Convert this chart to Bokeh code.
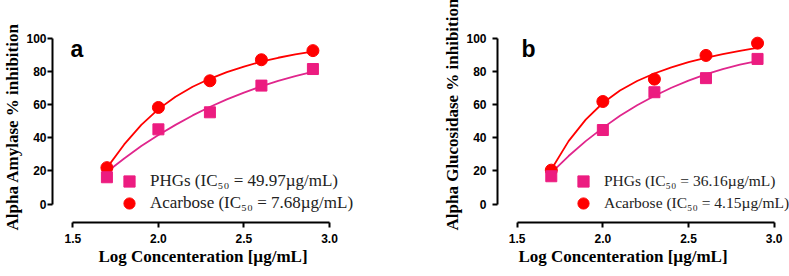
from bokeh.plotting import figure
from bokeh.models import Range1d, FixedTicker, PrintfTickFormatter, Label, Legend, LegendItem, Title
from bokeh.layouts import row
from bokeh.embed import file_html
from bokeh.resources import INLINE

# ---- data ----
log_conc = [1.699, 2.0, 2.301, 2.602, 2.903]
x_ticks = [1.5, 2.0, 2.5, 3.0]
y_ticks = [0, 20, 40, 60, 80, 100]

amylase_phgs = [16.2, 45.1, 55.4, 71.5, 81.5]
amylase_acarbose = [22.0, 58.3, 74.4, 87.1, 92.6]
glucosidase_phgs = [16.8, 44.7, 67.5, 76.0, 87.6]
glucosidase_acarbose = [20.5, 61.9, 75.4, 89.7, 97.1]

# fitted curves
fit_x = [1.7, 1.8, 1.9, 2.0, 2.1, 2.2, 2.3, 2.4, 2.5, 2.6, 2.7, 2.8, 2.9]
amylase_phgs_fit = [19.5, 27.5, 35.0, 41.7, 47.8, 53.5, 58.6, 63.2, 67.3, 71.0, 74.3, 77.2, 79.8]
amylase_acarbose_fit = [22.0, 36.0, 47.8, 57.3, 64.8, 70.8, 75.6, 79.6, 83.0, 85.9, 88.3, 90.3, 92.0]
glucosidase_phgs_fit = [19.0, 29.0, 38.0, 46.0, 53.3, 59.6, 65.2, 70.2, 74.5, 78.3, 81.5, 84.1, 86.3]
glucosidase_acarbose_fit = [21.0, 38.0, 51.0, 61.0, 68.5, 74.3, 78.8, 82.5, 85.6, 88.2, 90.5, 92.5, 94.3]

panel_a_labels = ["PHGs (IC\u2085\u2080 = 49.97\u00b5g/mL)", "Acarbose (IC\u2085\u2080 = 7.68\u00b5g/mL)"]
panel_b_labels = ["PHGs (IC\u2085\u2080 = 36.16\u00b5g/mL)", "Acarbose (IC\u2085\u2080 = 4.15\u00b5g/mL)"]
x_title = "Log Concenteration [\u00b5g/mL]"

PINK = "#EC1C80"
PINK_LINE = "#E0268C"
RED = "#FF0000"


def make_panel(width, border_left, border_right, x_start, x_end, ytick_standoff,
               letter, letter_dx, ylab, xlab_dx, phgs, acarb, phgs_fit, acarb_fit,
               labels, leg_x, leg_font):
    p = figure(width=width, height=276, output_backend="svg", toolbar_location=None,
               x_range=Range1d(x_start, x_end), y_range=Range1d(-11.1, 115),
               min_border_left=border_left, min_border_right=border_right,
               min_border_top=13, min_border_bottom=54)
    p.outline_line_color = None
    p.xgrid.visible = False
    p.ygrid.visible = False
    p.background_fill_color = "white"
    p.border_fill_color = "white"

    for ax in (p.xaxis[0], p.yaxis[0]):
        ax.axis_line_width = 2
        ax.axis_line_color = "black"
        ax.major_tick_line_width = 2
        ax.major_tick_line_color = "black"
        ax.major_tick_out = 5
        ax.major_tick_in = 0
        ax.minor_tick_out = 0
        ax.minor_tick_in = 0
        ax.major_label_text_font = "Liberation Sans"
        ax.major_label_text_font_style = "bold"
        ax.major_label_text_font_size = "12px"
        ax.major_label_text_color = "black"

    p.xaxis[0].ticker = FixedTicker(ticks=x_ticks, minor_ticks=[])
    p.xaxis[0].formatter = PrintfTickFormatter(format="%.1f")
    p.xaxis[0].bounds = (x_ticks[0], x_ticks[-1])
    p.xaxis[0].major_label_standoff = 6
    p.yaxis[0].ticker = FixedTicker(ticks=y_ticks, minor_ticks=[])
    p.yaxis[0].bounds = (y_ticks[0], y_ticks[-1])
    p.yaxis[0].major_label_standoff = ytick_standoff

    p.line(fit_x, phgs_fit, line_color=PINK_LINE, line_width=1.8)
    p.line(fit_x, acarb_fit, line_color=RED, line_width=1.8)
    circ = p.scatter(log_conc, acarb, marker="circle", size=12, fill_color=RED, line_color=RED)
    sq = p.scatter(log_conc, phgs, marker="square", size=11, fill_color=PINK, line_color=PINK)

    common = dict(glyph_width=28, glyph_height=28, label_standoff=7, padding=0, margin=0,
                  spacing=0, border_line_color=None, background_fill_alpha=0,
                  label_text_font="Liberation Serif", label_text_font_size=leg_font,
                  label_text_color="#222222")
    leg1 = Legend(items=[LegendItem(label=labels[0], renderers=[sq])],
                  location=(leg_x, 27), **common)
    leg2 = Legend(items=[LegendItem(label=labels[1], renderers=[circ])],
                  location=(leg_x, 5), **common)
    p.add_layout(leg1)
    p.add_layout(leg2)

    p.add_layout(Label(x=letter_dx, y=174, x_units="screen", y_units="screen", text=letter,
                       text_font="Liberation Sans", text_font_style="bold",
                       text_font_size="23px", text_color="black",
                       text_align="left", text_baseline="alphabetic"))
    p.add_layout(Title(text=ylab, align="left", offset=-8, standoff=0,
                       vertical_align="top", text_font="Liberation Serif",
                       text_font_style="bold", text_font_size="17px",
                       text_color="black"), "left")
    p.add_layout(Title(text=x_title, align="left", offset=xlab_dx, standoff=0,
                       vertical_align="middle", text_font="Liberation Serif",
                       text_font_style="bold", text_font_size="17px",
                       text_color="black"), "below")
    return p


pa = make_panel(440, 52, 60, 1.381, 3.298, 1, "a", 18, "Alpha Amylase % inhibition", 46,
                amylase_phgs, amylase_acarbose, amylase_phgs_fit, amylase_acarbose_fit,
                panel_a_labels, 63, "17px")
pb = make_panel(349, 57, 0, 1.385, 3.0896, 6, "b", 24, "Alpha Glucosidase % inhibition", 21,
                glucosidase_phgs, glucosidase_acarbose, glucosidase_phgs_fit,
                glucosidase_acarbose_fit, panel_b_labels, 72, "15.5px")

layout = row(pa, pb)
open("out.html", "w").write(file_html(layout, INLINE))
